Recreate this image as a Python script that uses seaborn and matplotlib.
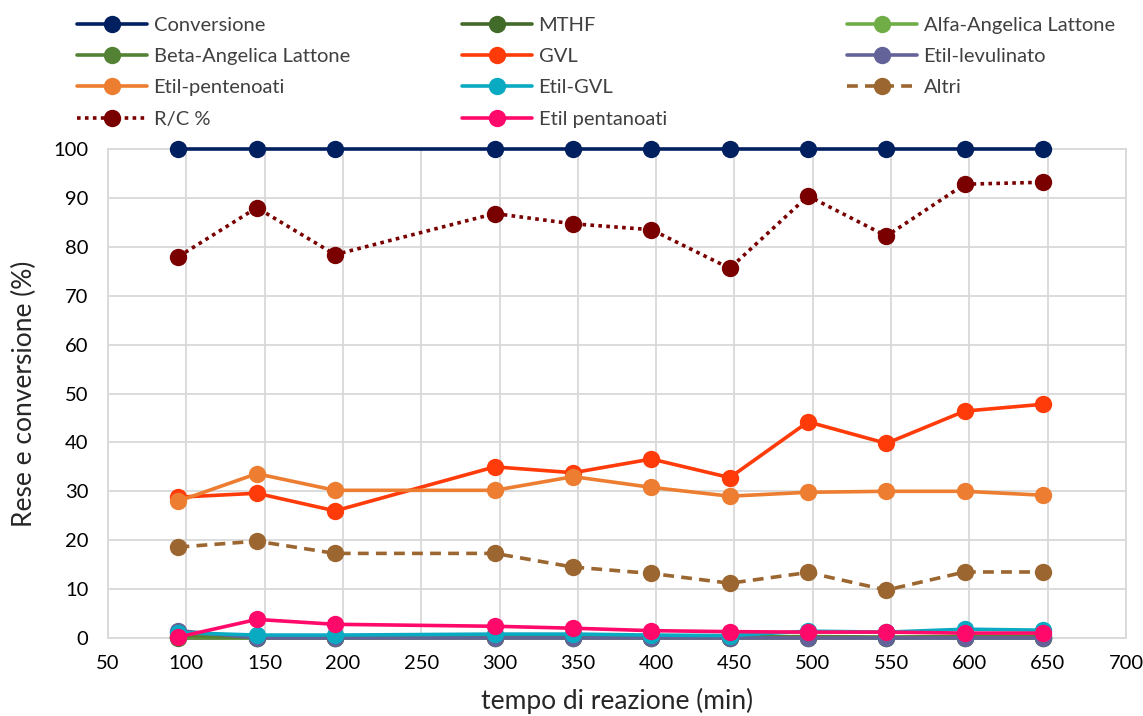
import matplotlib
matplotlib.use("Agg")
import matplotlib.pyplot as plt
import seaborn as sns
import pandas as pd

sns.set_theme(style="white")
plt.rcParams['font.family'] = ['Lato', 'DejaVu Sans']

tempo = [95, 145, 195, 297, 347, 397, 447, 497, 547, 597, 647]

conversione = [100, 100, 100, 100, 100, 100, 100, 100, 100, 100, 100]
mthf = [0, 0, 0, 0, 0, 0, 0, 0, 0, 0, 0]
alfa_angelica = [0.2, 0, 0, 0, 0, 0, 0, 0, 0, 0, 0]
beta_angelica = [0.3, 0.1, 0.1, 0.3, 0.3, 0.3, 0.2, 0.3, 0.2, 0.3, 0.3]
gvl = [28.8, 29.6, 26.0, 35.0, 33.8, 36.6, 32.8, 44.2, 39.8, 46.4, 47.8]
etil_levulinato = [1.5, 0, 0, 0, 0, 0, 0, 0, 0, 0, 0]
etil_pentenoati = [28.0, 33.6, 30.2, 30.2, 33.0, 30.8, 29.0, 29.8, 30.0, 30.0, 29.2]
etil_gvl = [1.1, 0.6, 0.6, 0.8, 0.8, 0.6, 0.5, 1.4, 1.2, 1.8, 1.6]
altri = [18.6, 19.8, 17.3, 17.3, 14.5, 13.2, 11.2, 13.4, 9.8, 13.5, 13.5]
rc_perc = [78.0, 88.0, 78.4, 86.8, 84.7, 83.5, 75.6, 90.4, 82.2, 92.8, 93.2]
etil_pentanoati = [0.2, 3.8, 2.8, 2.4, 2.0, 1.5, 1.3, 1.2, 1.2, 1.0, 1.0]

series = [
    ("Conversione", conversione, "#002060", "-"),
    ("MTHF", mthf, "#426B2A", "-"),
    ("Alfa-Angelica Lattone", alfa_angelica, "#70AD47", "-"),
    ("Beta-Angelica Lattone", beta_angelica, "#548235", "-"),
    ("GVL", gvl, "#FF3B0A", "-"),
    ("Etil-levulinato", etil_levulinato, "#636399", "-"),
    ("Etil-pentenoati", etil_pentenoati, "#ED7D31", "-"),
    ("Etil-GVL", etil_gvl, "#0AAAC2", "-"),
    ("Altri", altri, "#9C6630", (0, (3, 2))),
    ("R/C %", rc_perc, "#7A0000", (0, (1, 1.2))),
    ("Etil pentanoati", etil_pentanoati, "#FF0A6A", "-"),
]

fig = plt.figure(figsize=(11.43, 7.16), dpi=100)
ax = fig.add_axes([108 / 1143, 1 - 638 / 716, (1126 - 108) / 1143, (638 - 149) / 716])

handles = {}
for i, (name, vals, col, ls) in enumerate(series):
    df = pd.DataFrame({"t": tempo, "v": vals})
    sns.lineplot(data=df, x="t", y="v", ax=ax, color=col, linestyle=ls,
                 linewidth=2.6, marker="o", markersize=12.5,
                 markeredgewidth=0, label=name)
    ln = ax.get_lines()[-1]
    ln.set_clip_on(False)
    ln.set_zorder(3 + i * 0.1)
    handles[name] = ln

if ax.get_legend():
    ax.get_legend().remove()

ax.set_xlim(50, 700)
ax.set_ylim(0, 100)
ax.set_xticks(range(50, 701, 50))
ax.set_yticks(range(0, 101, 10))
ax.grid(True, color="#D9D9D9", linewidth=1.3)
ax.set_axisbelow(True)
for s in ax.spines.values():
    s.set_color("#D9D9D9")
    s.set_linewidth(1.3)
ax.tick_params(axis="both", labelsize=14.5, colors="black", length=0)
ax.tick_params(axis="x", pad=12)
ax.tick_params(axis="y", pad=14)
ax.set_xlabel("tempo di reazione (min)", fontsize=19, labelpad=12)
ax.set_ylabel("Rese e conversione (%)", fontsize=19, labelpad=12)

cols = [
    ["Conversione", "Beta-Angelica Lattone", "Etil-pentenoati", "R/C %"],
    ["MTHF", "GVL", "Etil-GVL", "Etil pentanoati"],
    ["Alfa-Angelica Lattone", "Etil-levulinato", "Altri"],
]
xs = [77, 462, 847]
for names, x in zip(cols, xs):
    leg = fig.legend([handles[n] for n in names], names, loc="upper left",
                     bbox_to_anchor=(x / 1143, 1 - 17 / 716), frameon=False,
                     fontsize=14.5, handlelength=3.5, handletextpad=0.3,
                     labelspacing=0.7, borderpad=0, borderaxespad=0)
    for t in leg.get_texts():
        t.set_color("#404040")

fig.savefig("out.png", dpi=100)
